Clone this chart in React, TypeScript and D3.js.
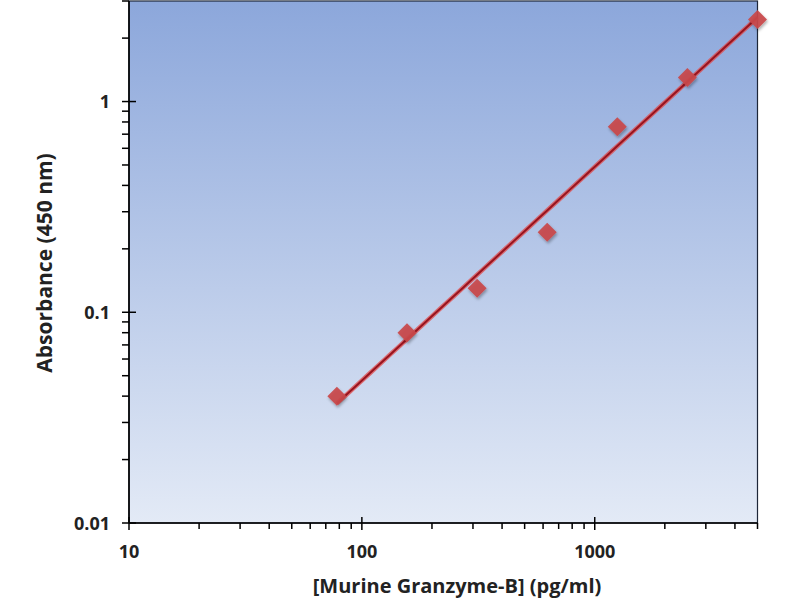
import * as d3 from 'd3'

// Standard curve: concentration (pg/ml) vs absorbance at 450 nm
const concentrations = [78.125, 156.25, 312.5, 625, 1250, 2500, 5000]
const absorbances = [0.04, 0.08, 0.13, 0.24, 0.76, 1.3, 2.45]

const xDomain: [number, number] = [10, 5000]
const yDomain: [number, number] = [0.01, 3]
const xMajorTicks = [10, 100, 1000]
const yMajorTicks = [0.01, 0.1, 1]
const xTickLabels = ['10', '100', '1000']
const yTickLabels = ['0.01', '0.1', '1']

const width = 800
const height = 600
const margin = { top: 1, right: 42.5, bottom: 77, left: 129 }
const font = '"Open Sans", Lato, sans-serif'

export default function App() {
  const x = d3.scaleLog().domain(xDomain).range([margin.left, width - margin.right])
  const y = d3.scaleLog().domain(yDomain).range([height - margin.bottom, margin.top])

  const x0 = margin.left
  const x1 = width - margin.right
  const y0 = height - margin.bottom
  const y1 = margin.top

  // minor ticks (2..9 of each decade)
  const xMinor: number[] = []
  for (let d = 10; d < 10000; d *= 10) {
    for (let k = 2; k <= 9; k++) {
      const v = d * k
      if (v <= xDomain[1] + 1e-6) xMinor.push(v)
    }
  }
  const yMinor: number[] = []
  for (let d = 0.01; d < 10; d *= 10) {
    for (let k = 2; k <= 9; k++) {
      const v = d * k
      if (v <= yDomain[1] * 1.001) yMinor.push(v)
    }
  }

  // power trend line (least squares in log-log space)
  const lx = concentrations.map(Math.log10)
  const ly = absorbances.map(Math.log10)
  const mx = d3.mean(lx) as number
  const my = d3.mean(ly) as number
  const slope =
    d3.sum(lx.map((v, i) => (v - mx) * (ly[i] - my))) / d3.sum(lx.map(v => (v - mx) ** 2))
  const intercept = my - slope * mx
  const fit = (c: number) => Math.pow(10, intercept + slope * Math.log10(c))
  const trend = d3.range(0, 41).map(i => {
    const lc = lx[0] + ((lx[lx.length - 1] - lx[0]) * i) / 40
    const c = Math.pow(10, lc)
    return [x(c), y(fit(c))] as [number, number]
  })
  const line = d3.line()
  const trendPath = line(trend) || ''

  const ds = 9.5

  return (
    <svg
      width={width}
      height={height}
      style={{ position: 'absolute', left: 0, top: 0, background: '#fff' }}
    >
      <defs>
        <linearGradient id="bg" x1="0" y1="0" x2="0" y2="1">
          <stop offset="0%" stopColor="#8ca7db" />
          <stop offset="100%" stopColor="#e3eaf6" />
        </linearGradient>
        <filter id="shadow" x="-50%" y="-50%" width="200%" height="200%">
          <feGaussianBlur in="SourceAlpha" stdDeviation="1.5" />
          <feOffset dx="1" dy="2" result="blur" />
          <feComponentTransfer>
            <feFuncA type="linear" slope="0.35" />
          </feComponentTransfer>
          <feMerge>
            <feMergeNode />
            <feMergeNode in="SourceGraphic" />
          </feMerge>
        </filter>
      </defs>

      <rect x={x0} y={y1} width={x1 - x0} height={y0 - y1} fill="url(#bg)" stroke="#1d2638" strokeWidth={1.2} />

      {/* axes */}
      <line x1={x0} x2={x0} y1={y1} y2={y0} stroke="#000" strokeWidth={1.6} />
      <line x1={x0} x2={x1} y1={y0} y2={y0} stroke="#000" strokeWidth={1.6} />

      {xMinor.map(v => (
        <line key={'xm' + v} x1={x(v)} x2={x(v)} y1={y0} y2={y0 + 6} stroke="#000" strokeWidth={1.5} />
      ))}
      {xMajorTicks.map(v => (
        <line key={'xM' + v} x1={x(v)} x2={x(v)} y1={y0 - 6} y2={y0 + 7} stroke="#000" strokeWidth={1.5} />
      ))}
      {yMinor.map(v => (
        <line key={'ym' + v} x1={x0 - 7} x2={x0} y1={y(v)} y2={y(v)} stroke="#000" strokeWidth={1.5} />
      ))}
      {yMajorTicks.map(v => (
        <line key={'yM' + v} x1={x0 - 7} x2={x0 + 7} y1={y(v)} y2={y(v)} stroke="#000" strokeWidth={1.5} />
      ))}

      {xMajorTicks.map((v, i) => (
        <text
          key={'xl' + v}
          x={x(v)}
          y={y0 + 35}
          textAnchor="middle"
          fontFamily={font}
          fontWeight={700}
          fontSize={18}
          fill="#222"
        >
          {xTickLabels[i]}
        </text>
      ))}
      {yMajorTicks.map((v, i) => (
        <text
          key={'yl' + v}
          x={x0 - 19}
          y={y(v) + 6.5}
          textAnchor="end"
          fontFamily={font}
          fontWeight={700}
          fontSize={18}
          fill="#222"
        >
          {yTickLabels[i]}
        </text>
      ))}

      {/* trend line */}
      <path d={trendPath} fill="none" stroke="#e04a4a" strokeWidth={4.5} strokeOpacity={0.75} />
      <path d={trendPath} fill="none" stroke="#98141f" strokeWidth={2} />

      {/* markers */}
      <g filter="url(#shadow)">
        {concentrations.map((c, i) => {
          const cx = x(c)
          const cy = y(absorbances[i])
          return (
            <path
              key={'p' + i}
              d={`M${cx},${cy - ds}L${cx + ds},${cy}L${cx},${cy + ds}L${cx - ds},${cy}Z`}
              fill="#c9484a"
              fillOpacity={0.92}
            />
          )
        })}
      </g>

      <text
        x={457}
        y={593}
        textAnchor="middle"
        fontFamily={font}
        fontWeight={700}
        fontSize={20}
        fill="#222"
      >
        [Murine Granzyme-B] (pg/ml)
      </text>
      <text
        transform={`translate(52,263) rotate(-90)`}
        textAnchor="middle"
        fontFamily={font}
        fontWeight={700}
        fontSize={21}
        fill="#222"
      >
        Absorbance (450 nm)
      </text>
    </svg>
  )
}
